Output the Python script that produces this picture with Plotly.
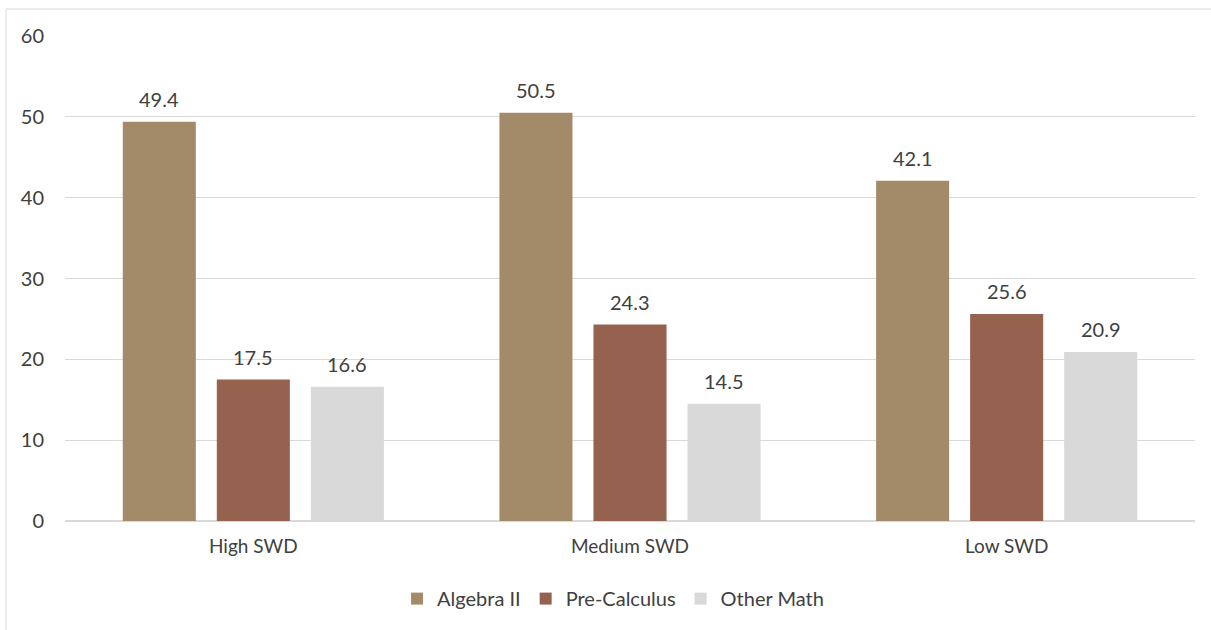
import plotly.graph_objects as go

categories = ["High SWD", "Medium SWD", "Low SWD"]
series_names = ["Algebra II", "Pre-Calculus", "Other Math"]
algebra2 = [49.4, 50.5, 42.1]
precalc = [17.5, 24.3, 25.6]
other_math = [16.6, 14.5, 20.9]
colors = ["#A38B6A", "#95624F", "#D9D9D9"]
y_ticks = [0, 10, 20, 30, 40, 50, 60]

series = [algebra2, precalc, other_math]
font_family = "Lato, 'Open Sans', sans-serif"
text_color = "#404040"

fig = go.Figure()
for name, vals, col in zip(series_names, series, colors):
    fig.add_trace(go.Bar(
        x=categories, y=vals, name=name, marker=dict(color=col, line=dict(width=0)),
    ))

# value labels above bars
slot_px = 94
for i, vals in enumerate(series):
    for cat, v in zip(categories, vals):
        fig.add_annotation(
            x=cat, y=v, xref="x", yref="y", text=f"{v:.1f}", showarrow=False,
            xshift=(i - 1) * slot_px, yshift=23, yanchor="middle",
            font=dict(family=font_family, size=20, color=text_color),
        )

fig.update_layout(
    width=1211, height=630,
    margin=dict(l=65, r=16, t=36, b=109),
    paper_bgcolor="white", plot_bgcolor="white",
    barmode="group", bargap=0.251, bargroupgap=0.223,
    font=dict(family=font_family, size=16, color=text_color),
    showlegend=True,
    legend=dict(orientation="h", x=0.485, xanchor="center", y=-0.16, yanchor="middle",
                font=dict(size=20, color=text_color), itemwidth=30, traceorder="normal"),
    xaxis=dict(showgrid=False, showline=False, ticks="", ticklabelstandoff=12,
               tickfont=dict(size=19, color=text_color)),
    yaxis=dict(range=[0, 60], tickvals=y_ticks, showgrid=True, gridcolor="#D9D9D9", gridwidth=1,
               zeroline=True, zerolinecolor="#D9D9D9", zerolinewidth=1.5,
               ticks="", ticklabelstandoff=20, tickfont=dict(size=20, color=text_color)),
    shapes=[dict(type="rect", xref="paper", yref="paper",
                 x0=(6 - 65) / 1130, x1=1.1, y0=-0.3, y1=1 + (36 - 9) / 485,
                 line=dict(color="#D9D9D9", width=1), fillcolor="rgba(0,0,0,0)", layer="below")],
)

fig.write_html("out.html")
